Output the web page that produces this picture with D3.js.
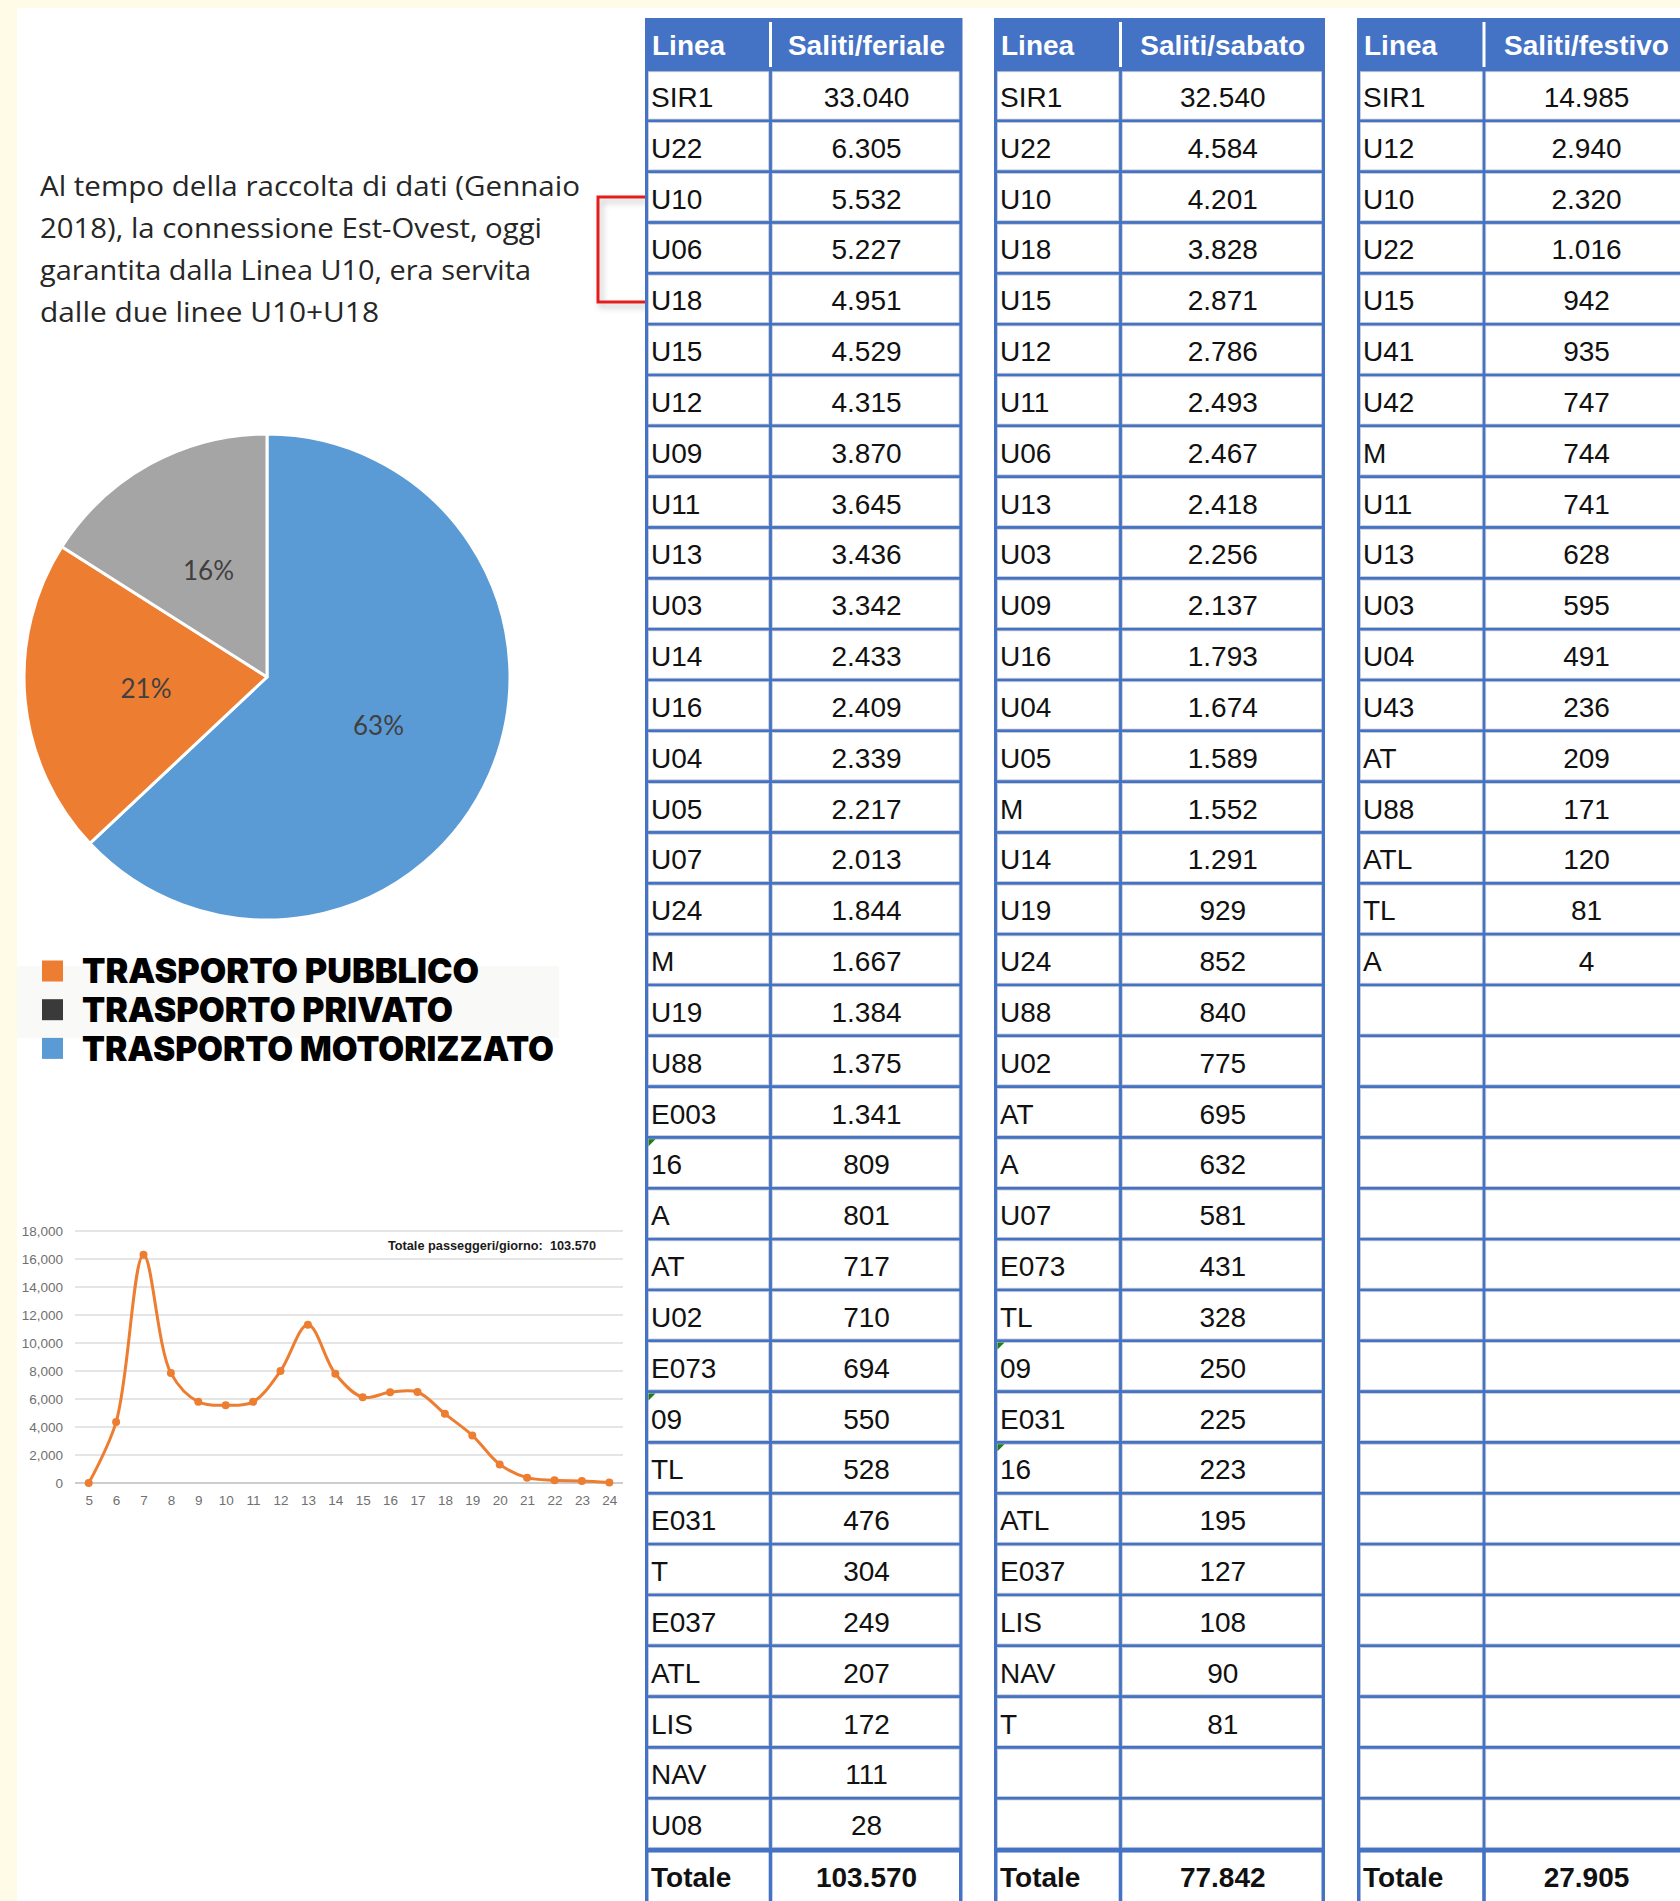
<!DOCTYPE html>
<html>
<head>
<meta charset="utf-8">
<script src="https://cdn.jsdelivr.net/npm/d3@7"></script>
<style>
body { margin: 0; background: #fff; overflow: hidden; }
text { font-family: "Liberation Sans", Arial, sans-serif; }
</style>
</head>
<body>
<svg id="chart" width="1680" height="1901"></svg>
<script>
// --- dati tabelle: saliti per linea ---
var lineeFeriale = ["SIR1","U22","U10","U06","U18","U15","U12","U09","U11","U13","U03","U14","U16","U04","U05","U07","U24","M","U19","U88","E003","16","A","AT","U02","E073","09","TL","E031","T","E037","ATL","LIS","NAV","U08"];
var salitiFeriale = [33040,6305,5532,5227,4951,4529,4315,3870,3645,3436,3342,2433,2409,2339,2217,2013,1844,1667,1384,1375,1341,809,801,717,710,694,550,528,476,304,249,207,172,111,28];

var lineeSabato = ["SIR1","U22","U10","U18","U15","U12","U11","U06","U13","U03","U09","U16","U04","U05","M","U14","U19","U24","U88","U02","AT","A","U07","E073","TL","09","E031","16","ATL","E037","LIS","NAV","T"];
var salitiSabato = [32540,4584,4201,3828,2871,2786,2493,2467,2418,2256,2137,1793,1674,1589,1552,1291,929,852,840,775,695,632,581,431,328,250,225,223,195,127,108,90,81];

var lineeFestivo = ["SIR1","U12","U10","U22","U15","U41","U42","M","U11","U13","U03","U04","U43","AT","U88","ATL","TL","A"];
var salitiFestivo = [14985,2940,2320,1016,942,935,747,744,741,628,595,491,236,209,171,120,81,4];

var titoliColonne = ["Saliti/feriale","Saliti/sabato","Saliti/festivo"];
var totali = [103570, 77842, 27905];

// --- torta ripartizione modale ---
var quoteModali = [63, 21, 16];
var vociLegenda = ["TRASPORTO PUBBLICO","TRASPORTO PRIVATO","TRASPORTO MOTORIZZATO"];

// --- profilo orario passeggeri (giorno feriale) ---
var ore = ["5","6","7","8","9","10","11","12","13","14","15","16","17","18","19","20","21","22","23","24"];
var passeggeri = [0,4350,16300,7850,5800,5550,5800,8000,11300,7800,6130,6480,6500,4940,3400,1330,380,190,140,30];
var tickPasseggeri = [0,2000,4000,6000,8000,10000,12000,14000,16000,18000];
var totaleGiorno = 103570;

var nota = ["Al tempo della raccolta di dati (Gennaio",
            "2018), la connessione Est-Ovest, oggi",
            "garantita dalla Linea U10, era servita",
            "dalle due linee U10+U18"];

var fmtIt = d3.formatLocale({decimal: ",", thousands: ".", grouping: [3], currency: ["", "€"]}).format(",d");

var svg = d3.select("#chart");

// sfondo e bordo crema
svg.append("rect").attr("width", 1680).attr("height", 1901).attr("fill", "#fff");
svg.append("rect").attr("width", 1680).attr("height", 8).attr("fill", "#fffbe6");
svg.append("rect").attr("width", 17).attr("height", 1901).attr("fill", "#fffbe6");

var defs = svg.append("defs");
defs.append("filter").attr("id", "ombra")
    .attr("x", "-50%").attr("y", "-20%").attr("width", "200%").attr("height", "140%")
  .append("feDropShadow")
    .attr("dx", 3).attr("dy", 4).attr("stdDeviation", 3)
    .attr("flood-color", "#000").attr("flood-opacity", 0.25);

// testo nota
var larghezzeNota = [540, 502, 491, 339];
svg.append("g").selectAll("text")
    .data(nota)
    .enter().append("text")
    .attr("x", 40)
    .attr("y", function(d, i) { return 195.5 + i * 42.2; })
    .attr("textLength", function(d, i) { return larghezzeNota[i]; })
    .attr("lengthAdjust", "spacingAndGlyphs")
    .style("font-family", "'Open Sans', 'Noto Sans', sans-serif")
    .style("font-size", "27px")
    .attr("fill", "#262626")
    .text(function(d) { return d; });

// staffa rossa U10 - U18
svg.append("path")
    .attr("d", "M646,197H598V302H646")
    .attr("fill", "none")
    .attr("stroke", "#e31e1e")
    .attr("stroke-width", 3)
    .attr("filter", "url(#ombra)");

// torta
var coloriTorta = ["#5b9bd5", "#ed7d31", "#a5a5a5"];
var pie = d3.pie().sort(null).value(function(d) { return d; });
var arc = d3.arc().innerRadius(0).outerRadius(243);
var gPie = svg.append("g").attr("transform", "translate(267,677)");

gPie.selectAll("path")
    .data(pie(quoteModali))
    .enter().append("path")
    .attr("d", arc)
    .attr("fill", function(d, i) { return coloriTorta[i]; })
    .attr("stroke", "#fff")
    .attr("stroke-width", 3)
    .attr("stroke-linejoin", "round");

gPie.selectAll("text")
    .data(pie(quoteModali))
    .enter().append("text")
    .attr("transform", function(d) { return "translate(" + arc.centroid(d) + ")"; })
    .attr("text-anchor", "middle")
    .attr("dy", "0.36em")
    .style("font-family", "Lato, 'Open Sans', sans-serif")
    .style("font-size", "26px")
    .attr("fill", "#404040")
    .text(function(d) { return d.data + "%"; });

// legenda
var coloriLegenda = ["#ed7d31", "#3a3a3a", "#5b9bd5"];
var larghezzeLegenda = [397, 371, 472];
var gLeg = svg.append("g");
gLeg.append("rect")
    .attr("x", 17).attr("y", 966).attr("width", 542).attr("height", 72)
    .attr("fill", "#f9f9f7");

var voce = gLeg.selectAll("g.voce")
    .data(vociLegenda)
    .enter().append("g")
    .attr("class", "voce")
    .attr("transform", function(d, i) { return "translate(0," + (971 + i * 38.7) + ")"; });

voce.append("rect")
    .attr("x", 42).attr("y", -10.5)
    .attr("width", 21).attr("height", 21)
    .attr("fill", function(d, i) { return coloriLegenda[i]; });

voce.append("text")
    .attr("x", 82).attr("y", 12.3)
    .attr("textLength", function(d, i) { return larghezzeLegenda[i]; })
    .attr("lengthAdjust", "spacingAndGlyphs")
    .style("font-family", "Inter, Lato, 'Open Sans', sans-serif")
    .style("font-weight", 900)
    .style("font-size", "34px")
    .attr("fill", "#000")
    .text(function(d) { return d; });

// grafico a linee passeggeri/ora
var xOra = d3.scalePoint().domain(ore).range([75, 623]).padding(0.5);
var yPass = d3.scaleLinear().domain([0, 18000]).range([1483, 1231]);
var gLine = svg.append("g");

gLine.selectAll("line.griglia")
    .data(tickPasseggeri)
    .enter().append("line")
    .attr("class", "griglia")
    .attr("x1", 75).attr("x2", 623)
    .attr("y1", function(d) { return yPass(d); })
    .attr("y2", function(d) { return yPass(d); })
    .attr("stroke", function(d) { return d === 0 ? "#bcbcbc" : "#dcdcdc"; })
    .attr("stroke-width", 1.3);

gLine.append("g")
    .attr("transform", "translate(75,0)")
    .call(d3.axisLeft(yPass).tickValues(tickPasseggeri).tickSize(0).tickPadding(12).tickFormat(d3.format(",")))
    .call(function(g) { g.select(".domain").remove(); })
    .selectAll("text")
    .style("font-family", "'Liberation Sans', Arial, sans-serif")
    .style("font-size", "13.5px")
    .attr("fill", "#707070");

gLine.append("g")
    .attr("transform", "translate(0,1483)")
    .call(d3.axisBottom(xOra).tickSize(0).tickPadding(12))
    .call(function(g) { g.select(".domain").remove(); })
    .selectAll("text")
    .style("font-family", "'Liberation Sans', Arial, sans-serif")
    .style("font-size", "13.5px")
    .attr("fill", "#707070");

var linea = d3.line()
    .x(function(d, i) { return xOra(ore[i]); })
    .y(function(d) { return yPass(d); })
    .curve(d3.curveCatmullRom.alpha(0.5));

gLine.append("path")
    .datum(passeggeri)
    .attr("d", linea)
    .attr("fill", "none")
    .attr("stroke", "#ed7d31")
    .attr("stroke-width", 3);

gLine.selectAll("circle")
    .data(passeggeri)
    .enter().append("circle")
    .attr("cx", function(d, i) { return xOra(ore[i]); })
    .attr("cy", function(d) { return yPass(d); })
    .attr("r", 4)
    .attr("fill", "#ed7d31");

gLine.append("text")
    .attr("x", 596).attr("y", 1249.5)
    .attr("text-anchor", "end")
    .style("font-weight", "bold")
    .style("font-size", "12.75px")
    .attr("fill", "#1a1a1a")
    .attr("xml:space", "preserve")
    .text("Totale passeggeri/giorno:  " + fmtIt(totaleGiorno));

// tabelle saliti
var nRighe = 35, yTesta = 18, yCorpo = 70, hRiga = 50.83;
var yTotale = yCorpo + nRighe * hRiga;
var blu = "#4472c4";

var tabelle = [
    {x: [645, 770.5, 962.5], titolo: titoliColonne[0], linee: lineeFeriale, valori: salitiFeriale, totale: totali[0]},
    {x: [994, 1120.5, 1325], titolo: titoliColonne[1], linee: lineeSabato, valori: salitiSabato, totale: totali[1]},
    {x: [1357, 1484, 1689], titolo: titoliColonne[2], linee: lineeFestivo, valori: salitiFestivo, totale: totali[2]}
];

function disegnaTabella(t) {
    var x0 = t.x[0], x1 = t.x[1], x2 = t.x[2];
    var g = svg.append("g");

    g.append("rect")
        .attr("x", x0).attr("y", yTesta)
        .attr("width", x2 - x0).attr("height", 1901 - yTesta)
        .attr("fill", blu);

    g.append("line")
        .attr("x1", x1).attr("x2", x1).attr("y1", 22).attr("y2", 67)
        .attr("stroke", "#fff").attr("stroke-width", 3);

    g.append("text")
        .attr("x", x0 + 7).attr("y", 55)
        .style("font-weight", "bold").style("font-size", "28px")
        .attr("fill", "#fff")
        .text("Linea");

    g.append("text")
        .attr("x", (x1 + x2) / 2).attr("y", 55)
        .attr("text-anchor", "middle")
        .style("font-weight", "bold").style("font-size", "28px")
        .attr("fill", "#fff")
        .text(t.titolo);

    var riga = g.selectAll("g.riga")
        .data(d3.range(nRighe))
        .enter().append("g")
        .attr("class", "riga")
        .attr("transform", function(i) { return "translate(0," + (yCorpo + i * hRiga) + ")"; });

    riga.append("rect")
        .attr("x", x0 + 3.5).attr("y", 1.8)
        .attr("width", x1 - 1.8 - x0 - 3.5).attr("height", hRiga - 3.6)
        .attr("fill", "#fff").attr("stroke", "#d4d4d4").attr("stroke-width", 0.8);

    riga.append("rect")
        .attr("x", x1 + 1.8).attr("y", 1.8)
        .attr("width", x2 - 3.5 - x1 - 1.8).attr("height", hRiga - 3.6)
        .attr("fill", "#fff").attr("stroke", "#d4d4d4").attr("stroke-width", 0.8);

    // triangolino verde: numero salvato come testo
    riga.filter(function(i) { return i < t.linee.length && /^\d+$/.test(t.linee[i]); })
        .append("path")
        .attr("d", "M" + (x0 + 3.5) + ",1.8h7l-7,7z")
        .attr("fill", "#1e7b1e");

    riga.filter(function(i) { return i < t.linee.length; })
        .append("text")
        .attr("x", x0 + 6).attr("y", 37)
        .style("font-size", "28px")
        .attr("fill", "#111")
        .text(function(i) { return t.linee[i]; });

    riga.filter(function(i) { return i < t.valori.length; })
        .append("text")
        .attr("x", (x1 + x2) / 2).attr("y", 37)
        .attr("text-anchor", "middle")
        .style("font-size", "28px")
        .attr("fill", "#111")
        .text(function(i) { return fmtIt(t.valori[i]); });

    // riga totale
    g.append("rect")
        .attr("x", x0 + 3.5).attr("y", yTotale + 3.5)
        .attr("width", x1 - 1.8 - x0 - 3.5).attr("height", 1901 - yTotale)
        .attr("fill", "#fff");
    g.append("rect")
        .attr("x", x1 + 1.8).attr("y", yTotale + 3.5)
        .attr("width", x2 - 3.5 - x1 - 1.8).attr("height", 1901 - yTotale)
        .attr("fill", "#fff");

    g.append("text")
        .attr("x", x0 + 6).attr("y", yTotale + 38)
        .style("font-weight", "bold").style("font-size", "28px")
        .attr("fill", "#111")
        .text("Totale");

    g.append("text")
        .attr("x", (x1 + x2) / 2).attr("y", yTotale + 38)
        .attr("text-anchor", "middle")
        .style("font-weight", "bold").style("font-size", "28px")
        .attr("fill", "#111")
        .text(fmtIt(t.totale));
}

tabelle.forEach(disegnaTabella);
</script>
</body>
</html>
